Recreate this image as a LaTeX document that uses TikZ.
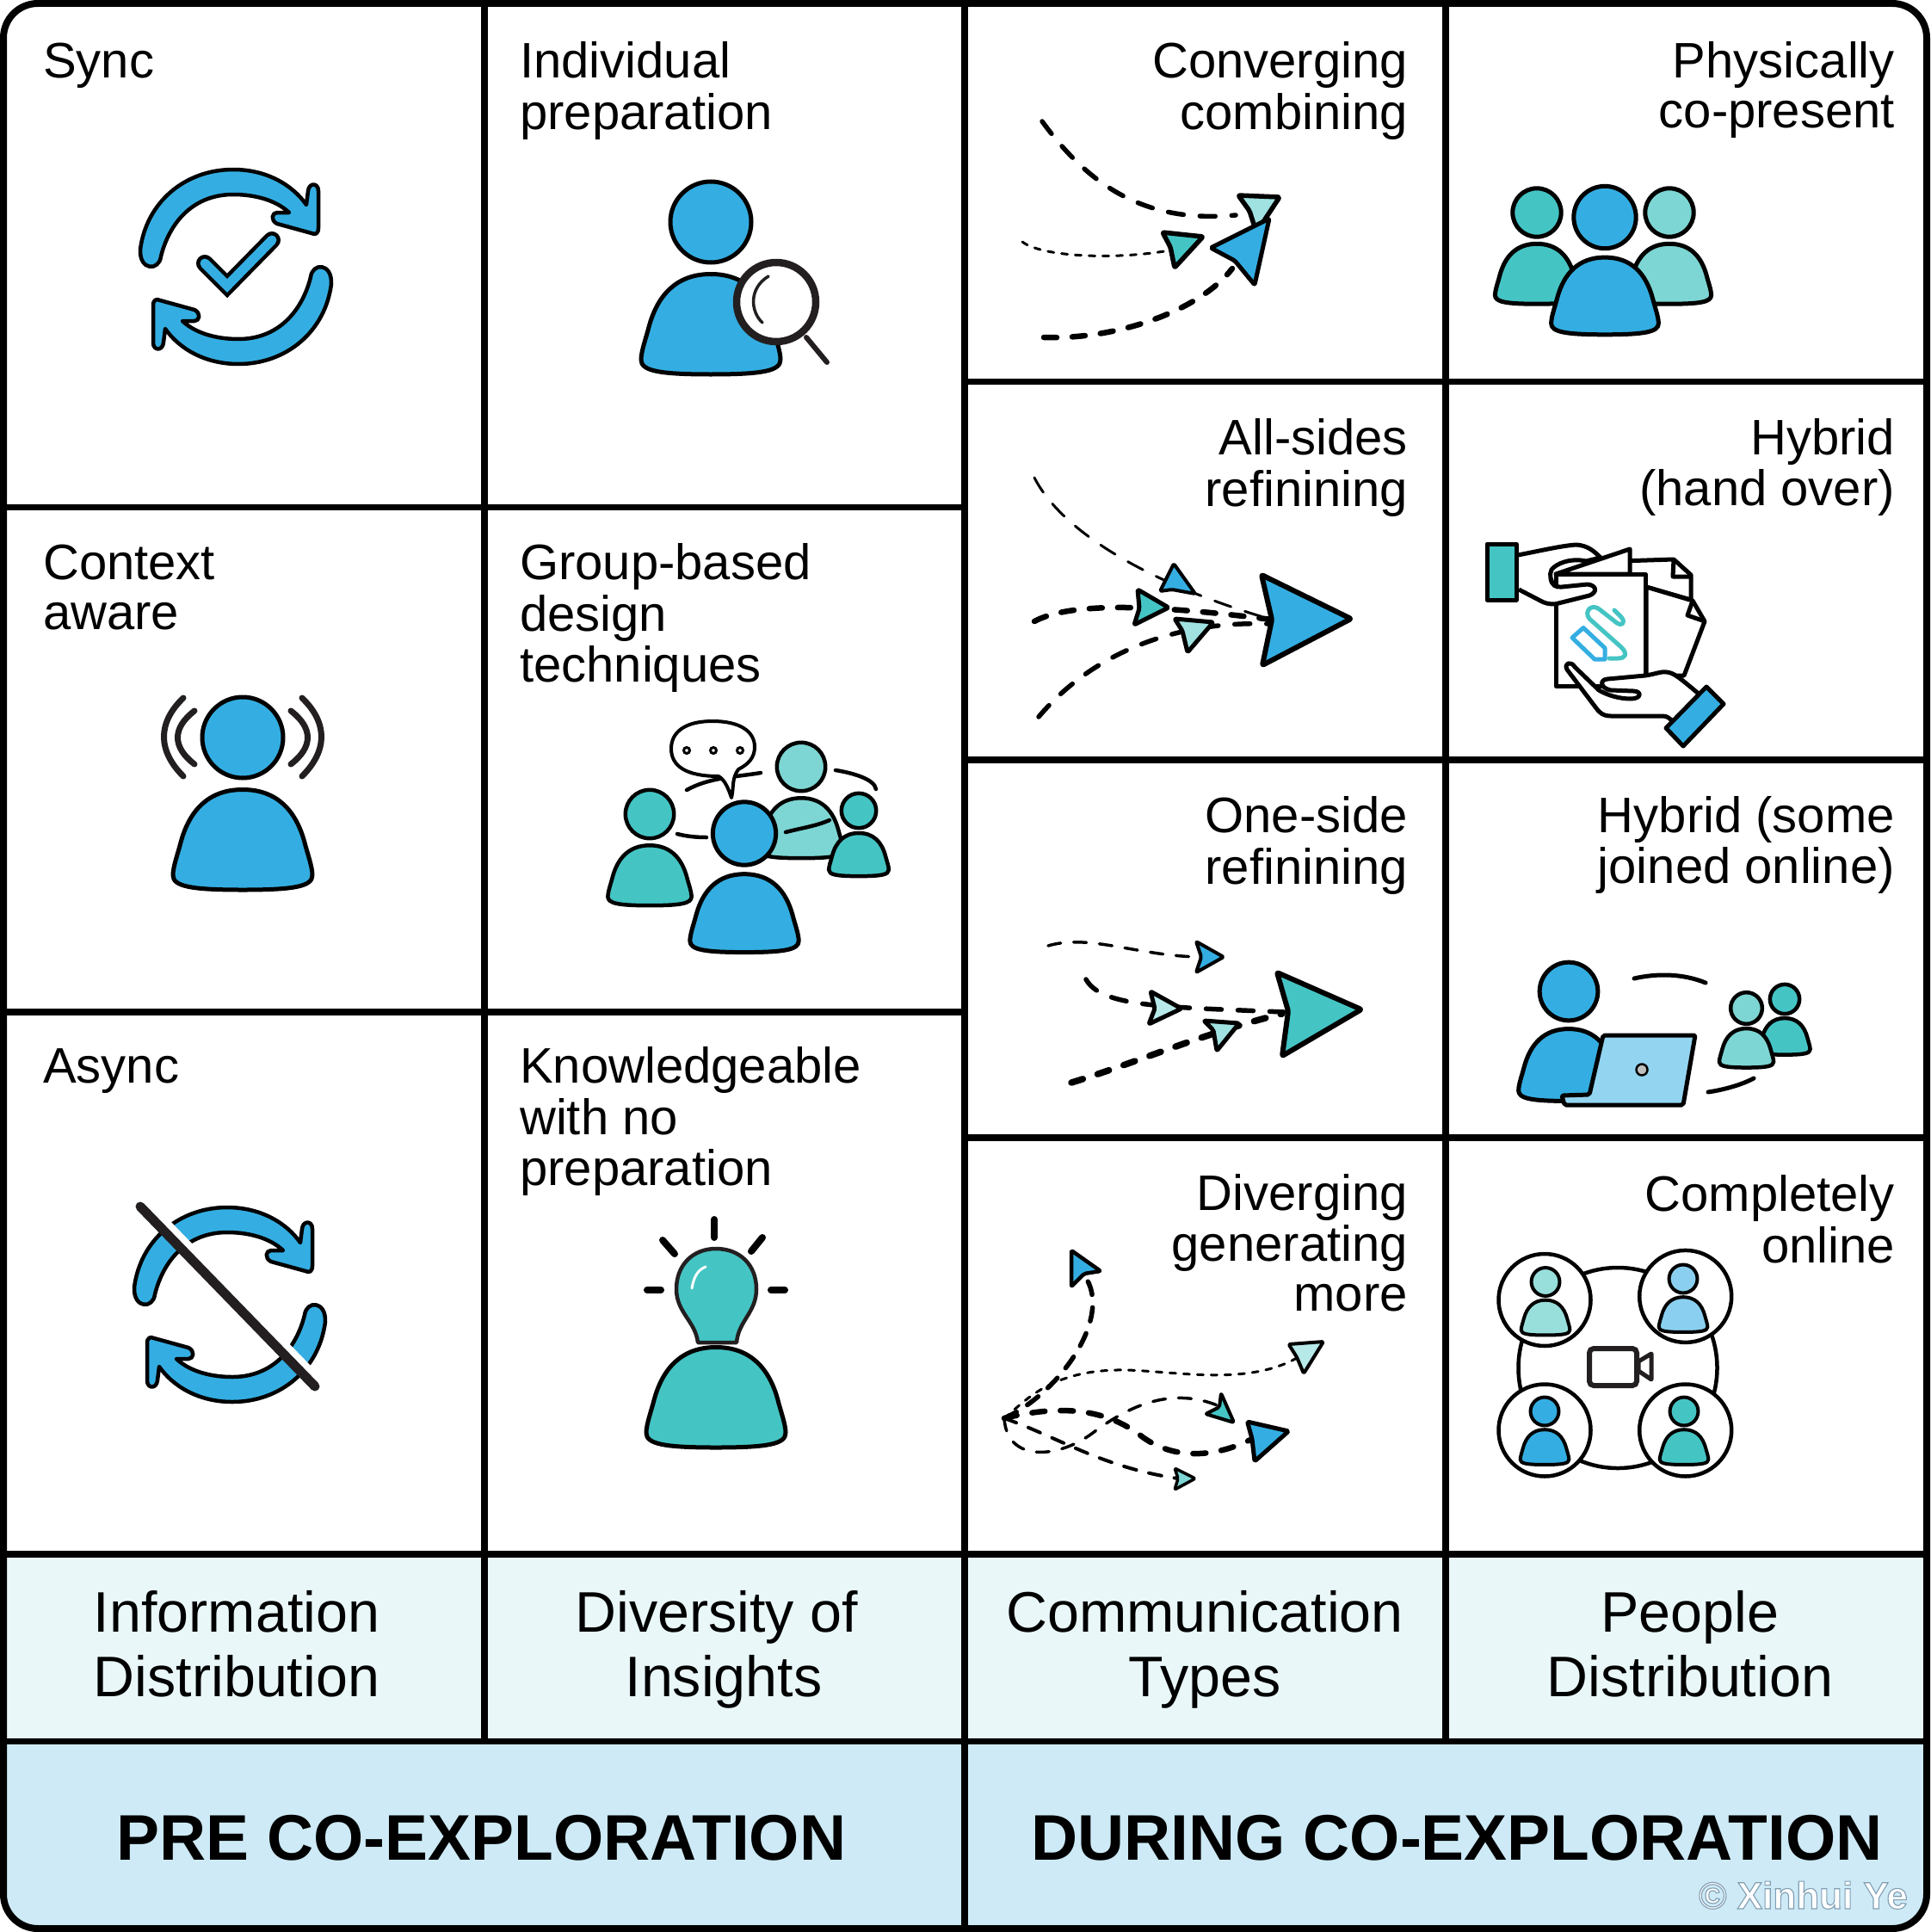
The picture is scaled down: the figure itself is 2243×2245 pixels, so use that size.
\documentclass[tikz,border=0pt]{standalone}
\usepackage{fontspec}
\setmainfont[Ligatures=NoCommon]{Liberation Sans}

\definecolor{cblue}{HTML}{34AEE2}
\definecolor{cteal}{HTML}{45C4C4}
\definecolor{cmint}{HTML}{7DD6D3}
\definecolor{caqua}{HTML}{A0E1E1}
\definecolor{cpale}{HTML}{B7E9E9}
\definecolor{csky}{HTML}{93D5F1}
\definecolor{csoftteal}{HTML}{98DFDC}
\definecolor{csoftblue}{HTML}{8ACFEF}
\definecolor{cheader}{HTML}{E9F7F9}
\definecolor{cfooter}{HTML}{CDEAF6}
\definecolor{cink}{HTML}{231F20}

\newcommand\cellfont{\fontsize{58}{58.3}\selectfont}
\newcommand\headfont{\fontsize{66.4}{75}\selectfont}
\newcommand\footfont{\fontsize{74.9}{80}\bfseries\selectfont}
\newcommand\stackL[1]{\begin{tabular}[t]{@{}l@{}}#1\end{tabular}}
\newcommand\stackR[1]{\begin{tabular}[t]{@{}r@{}}#1\end{tabular}}
\newcommand\stackC[1]{\begin{tabular}[t]{@{}c@{}}#1\end{tabular}}

\tikzset{
  gridline/.style={draw=black,line width=7.5pt},
  celltextL/.style={anchor=base west,inner sep=0pt,font=\cellfont},
  celltextR/.style={anchor=base east,inner sep=0pt,font=\cellfont},
  headtext/.style={anchor=base,inner sep=0pt,font=\headfont},
  foottext/.style={anchor=base,inner sep=0pt,font=\footfont},
  ink/.style={draw=black,line width=5pt,line join=round},
  inkline/.style={draw=cink,line width=#1,line cap=round},
  inkline/.default=5pt,
  plane/.style={draw=black,line width=#1,line join=round,rounded corners=2pt},
  plane/.default=5pt,
  flowfine/.style={draw=black,line width=3pt,line cap=round,dash pattern=on 7pt off 9pt},
  flowlight/.style={draw=black,line width=3.5pt,line cap=round,dash pattern=on 15pt off 15pt},
  flowmid/.style={draw=black,line width=5.5pt,line cap=round,dash pattern=on 18pt off 19pt},
  flowbold/.style={draw=black,line width=6.5pt,line cap=round,dash pattern=on 15pt off 18pt},
}

% bell-shaped torso; local origin is the centre of the head
\newcommand\torso[5]{%
  \draw[shift={(#1,#2)},scale=#3,fill=#4,draw=black,line width=#5pt,line join=round]
    (0,60.5) .. controls (40,60.5) and (62,85) .. (72,122)
    .. controls (75,134) and (81,150) .. (81,160)
    .. controls (81,173) and (60,177) .. (0,177)
    .. controls (-60,177) and (-81,173) .. (-81,160)
    .. controls (-81,150) and (-75,134) .. (-72,122)
    .. controls (-62,85) and (-40,60.5) .. (0,60.5) -- cycle;}
\newcommand\person[5]{%
  \torso{#1}{#2}{#3}{#4}{#5}%
  \draw[shift={(#1,#2)},scale=#3,fill=#4,draw=black,line width=#5pt]
    (0,0) ellipse [x radius=47,y radius=47];}

% curved arrow, half of the refresh symbol, centred on the symbol's middle
\newcommand\turnarrow[3]{%
  \draw[shift={(#1,#2)},rotate=#3,fill=cblue,draw=black,line width=4.5pt,line join=round]
    (62,-63) .. controls (46,-78) and (21,-84) .. (-3,-84)
    .. controls (-49,-84) and (-77,-52) .. (-87,-12)
    .. controls (-89,5) and (-112,5) .. (-111,-20)
    .. controls (-104,-75) and (-59,-113) .. (-3,-113)
    .. controls (36,-113) and (66,-95) .. (82,-72)
    -- (84,-88) .. controls (85,-98) and (96,-98) .. (96,-88)
    -- (96,-45) .. controls (96,-38) and (92,-37) .. (88,-39)
    -- (48,-50) .. controls (40,-54) and (42,-63) .. (48,-63) -- cycle;}

\begin{document}
\begin{tikzpicture}[x=1pt,y=-1pt]
\useasboundingbox (0,0) rectangle (2243,2245);
\fill[white] (0,0) rectangle (2243,2245);

% ---- table background and rules ----
\begin{scope}
  \clip[rounded corners=40pt] (4,4) rectangle (2239,2241);
  \fill[cheader] (4,1806) rectangle (2239,2023.5);
  \fill[cfooter] (4,2023.5) rectangle (2239,2241);
\end{scope}
\draw[gridline] (563,4) -- (563,2023.5);
\draw[gridline] (1121,4) -- (1121,2241);
\draw[gridline] (1680,4) -- (1680,2023.5);
\draw[gridline] (4,589.5) -- (1121,589.5);
\draw[gridline] (4,1176) -- (1121,1176);
\draw[gridline] (1121,443.5) -- (2239,443.5);
\draw[gridline] (1121,883) -- (2239,883);
\draw[gridline] (1121,1322) -- (2239,1322);
\draw[gridline] (4,1806) -- (2239,1806);
\draw[gridline] (4,2023.5) -- (2239,2023.5);
\draw[draw=black,line width=8pt,rounded corners=40pt] (4,4) rectangle (2239,2241);

% ---- Sync ----
\turnarrow{274}{310}{0}
\turnarrow{274}{310}{180}
\draw[draw=black,line width=20pt,line cap=round,line join=miter] (238,306) -- (264,332) -- (316,279);
\draw[draw=cblue,line width=11pt,line cap=round,line join=miter] (238,306) -- (264,332) -- (316,279);

% ---- Context aware ----
\person{282}{857}{1}{cblue}{5}
\draw[inkline=7pt] (213,811) .. controls (183,840) and (183,872) .. (213,902);
\draw[inkline=7pt] (226,826) .. controls (200,846) and (200,868) .. (226,888);
\draw[inkline=7pt] (351,811) .. controls (381,840) and (381,872) .. (351,902);
\draw[inkline=7pt] (338,826) .. controls (364,846) and (364,868) .. (338,888);

% ---- Async ----
\turnarrow{267}{1516}{0}
\turnarrow{267}{1516}{180}
\draw[white,line width=15pt] (168,1399) -- (371,1608);
\draw[inkline=11pt] (163,1402) -- (366,1611);

% ---- Individual preparation ----
\person{826}{258}{1}{cblue}{5}
\draw[inkline=6pt] (937,392) -- (961,421);
\draw[fill=white,draw=cink,line width=8.5pt] (902,351) circle [radius=46];
\draw[draw=cink,line width=3.5pt,line cap=round] (893,321) .. controls (870,335) and (872,362) .. (886,375);

% ---- Group-based design techniques ----
\person{931}{891}{0.6}{cmint}{4.5}
\person{998}{942}{0.43}{cteal}{4.5}
\draw[inkline=4.5pt,draw=black] (913,967) .. controls (932,962) and (948,960) .. (964,953);
\draw[inkline=4.5pt,draw=black] (971,895) .. controls (990,898) and (1016,905) .. (1018,917);
\person{755}{946}{0.6}{cteal}{4.5}
\draw[inkline=4.5pt,draw=black] (787,969) .. controls (798,972) and (810,973) .. (821,973);
\draw[inkline=4.5pt,draw=black] (798,918) .. controls (825,903) and (855,903) .. (884,898);
\draw[fill=white,draw=black,line width=4pt,line join=round]
  (835,902) .. controls (842,906) and (846,915) .. (850,927)
  .. controls (853,915) and (850,905) .. (858,894)
  .. controls (870,888) and (877,880) .. (877,868)
  .. controls (877,850) and (860,838) .. (828,838)
  .. controls (797,838) and (780,850) .. (780,870)
  .. controls (780,890) and (797,902) .. (835,902) -- cycle;
\draw[fill=white,draw=black,line width=3pt] (798,872) circle [radius=3.5];
\draw[fill=white,draw=black,line width=3pt] (829,872) circle [radius=3.5];
\draw[fill=white,draw=black,line width=3pt] (860,872) circle [radius=3.5];
\person{865}{968.5}{0.78}{cblue}{5}

% ---- Knowledgeable with no preparation ----
\torso{832}{1505}{1}{cteal}{5}
\draw[fill=cteal,draw=cink,line width=4.5pt,line join=round]
  (811,1560) .. controls (808,1535) and (786,1525) .. (786,1498)
  .. controls (786,1470) and (805,1451) .. (832,1451)
  .. controls (860,1451) and (879,1470) .. (879,1498)
  .. controls (879,1525) and (858,1535) .. (856,1560) -- cycle;
\draw[white,line width=3pt,line cap=round] (820,1472) .. controls (810,1476) and (806,1485) .. (804,1497);
\draw[inkline=8pt,draw=black] (830,1417) -- (830,1438);
\draw[inkline=8pt,draw=black] (770,1441) -- (784,1457);
\draw[inkline=8pt,draw=black] (886,1438) -- (873,1454);
\draw[inkline=8pt,draw=black] (752,1499) -- (768,1499);
\draw[inkline=8pt,draw=black] (896,1499) -- (912,1499);

% ---- Converging combining ----
\draw[flowmid] (1211,141) .. controls (1265,215) and (1330,260) .. (1436,250);
\draw[flowfine] (1188,281) .. controls (1210,298) and (1290,302) .. (1353,292);
\draw[flowbold] (1213,392) .. controls (1300,395) and (1395,360) .. (1432,312);
\draw[plane=5.5pt,fill=caqua] (1439,227) -- (1487,229) -- (1460,270) -- (1452,245) -- cycle;
\draw[plane=5.5pt,fill=cteal] (1351,270) -- (1398,275) -- (1365,311) -- (1360,287) -- cycle;
\draw[plane=5pt,fill=cblue] (1475,254) -- (1407,288) -- (1435,303) -- (1458,331) -- cycle;

% ---- All-sides refinining ----
\draw[flowfine,line width=3pt,dash pattern=on 20pt off 17pt] (1202,555) .. controls (1235,620) and (1340,680) .. (1478,720);
\draw[flowbold] (1202,722) .. controls (1240,702) and (1320,700) .. (1478,720);
\draw[flowmid] (1207,833) .. controls (1260,770) and (1350,720) .. (1478,725);
\draw[plane=4pt,fill=cblue] (1364,655) -- (1389,690) -- (1362,685) -- (1348,687) -- cycle;
\draw[plane=5pt,fill=cteal] (1322,685) -- (1358,706) -- (1318,726) -- (1324,707) -- cycle;
\draw[plane=5pt,fill=caqua] (1365,719) -- (1410,723) -- (1380,758) -- (1374,733) -- cycle;
\draw[plane=6pt,fill=cblue] (1570,719) -- (1466,668) -- (1478,720) -- (1467,773) -- cycle;

% ---- One-side refinining ----
\draw[flowlight] (1218,1099) .. controls (1265,1085) and (1320,1110) .. (1392,1112);
\draw[flowmid] (1262,1138) .. controls (1280,1170) and (1350,1170) .. (1492,1176);
\draw[flowbold,line width=7.5pt,dash pattern=on 14pt off 18pt] (1245,1258) .. controls (1320,1235) and (1400,1200) .. (1490,1178);
\draw[plane=4pt,fill=cblue] (1390,1094) -- (1422,1112) -- (1390,1130) -- (1396,1112) -- cycle;
\draw[plane=5pt,fill=cpale] (1337,1152) -- (1373,1172) -- (1335,1190) -- (1342,1172) -- cycle;
\draw[plane=5pt,fill=caqua] (1399,1186) -- (1440,1189) -- (1414,1221) -- (1410,1197) -- cycle;
\draw[plane=6pt,fill=cteal] (1582,1173) -- (1484,1130) -- (1497,1175) -- (1490,1227) -- cycle;

% ---- Diverging generating more ----
\coordinate (fan) at (1167,1648);
\draw[flowmid,dash pattern=on 16pt off 15pt] (fan) .. controls (1230,1620) and (1295,1530) .. (1260,1482);
\draw[flowfine] (fan) .. controls (1190,1630) and (1220,1590) .. (1310,1592)
  .. controls (1370,1594) and (1450,1610) .. (1507,1578);
\draw[flowlight] (fan) .. controls (1170,1700) and (1230,1695) .. (1270,1665)
  .. controls (1310,1635) and (1360,1610) .. (1417,1634);
\draw[flowbold] (fan) .. controls (1240,1630) and (1290,1640) .. (1328,1670)
  .. controls (1370,1700) and (1420,1690) .. (1455,1672);
\draw[flowlight,line width=4pt] (fan) .. controls (1230,1670) and (1280,1705) .. (1369,1718);
\draw[plane=4.5pt,fill=cblue] (1245,1453) -- (1279,1477) -- (1260,1480) -- (1245,1495) -- cycle;
\draw[plane=4pt,fill=cpale] (1497.5,1562) -- (1538,1559) -- (1515,1596) -- (1507,1577) -- cycle;
\draw[plane=4pt,fill=cteal] (1419,1619) -- (1434,1653) -- (1401,1643) -- (1417,1635) -- cycle;
\draw[plane=5pt,fill=cblue] (1449.5,1652) -- (1497.5,1663) -- (1458,1698) -- (1455,1672) -- cycle;
\draw[plane=3.5pt,fill=cmint] (1365,1706) -- (1389,1718) -- (1365,1731) -- (1369,1718) -- cycle;

% ---- Physically co-present ----
\person{1786}{247}{0.6}{cteal}{5}
\person{1940}{247}{0.6}{cmint}{5}
\person{1865}{252.5}{0.77}{cblue}{5}

% ---- Hybrid (hand over) ----
\draw[fill=white,ink] (1883,665) -- (1883,652) -- (1945,650) -- (1965,668) -- (1965,697) -- (1913,682) -- cycle;
\draw[ink] (1945,650) -- (1944,670) -- (1965,670);
\draw[fill=white,ink] (1913,682) -- (1967,698) -- (1981,722) -- (1957,785) -- (1913,785) -- cycle;
\draw[ink] (1967,698) -- (1961,715) -- (1981,722);
\draw[ink,fill=white] (1764,645) .. controls (1790,640) and (1815,634) .. (1832,633)
  .. controls (1845,634) and (1852,640) .. (1860,648) -- (1843,652)
  .. controls (1825,648) and (1808,655) .. (1803,662)
  .. controls (1800,668) and (1802,675) .. (1806,680);
\draw[ink,fill=white] (1808,667) -- (1894,638) -- (1894,667) -- cycle;
\draw[ink,fill=white] (1808,667) -- (1912,667) -- (1912,797) -- (1808,797) -- cycle;
\draw[fill=white,ink] (1802,672) .. controls (1803,680) and (1808,683) .. (1815,682)
  -- (1845,679) .. controls (1855,680) and (1857,688) .. (1847,692)
  -- (1807,702) .. controls (1800,702) and (1795,701) .. (1790,698)
  -- (1765,685);
\draw[ink,fill=cteal] (1728,632) rectangle (1762,697);
% paper-clip emblem on the front sheet
\draw[draw=cblue,line width=5pt,line join=round] (1840,729.5) -- (1865,753) -- (1865,766) -- (1853,766) -- (1827,741) -- cycle;
\draw[draw=cteal,line width=5pt,line cap=round,line join=round]
  (1876,709) -- (1884,717) .. controls (1890,724) and (1884,728) .. (1879,724)
  -- (1860,709) .. controls (1850,700) and (1840,710) .. (1847,719)
  -- (1884,752) .. controls (1892,760) and (1889,765) .. (1880,765) -- (1870,765);
% receiving hand
\draw[fill=white,ink] (1821,778) .. controls (1817,770) and (1826,768) .. (1830,775)
  -- (1858,802) .. controls (1868,808) and (1882,812) .. (1895,812)
  .. controls (1908,812) and (1908,803) .. (1898,803)
  -- (1872,802) .. controls (1860,800) and (1858,790) .. (1868,789)
  -- (1912,785) .. controls (1925,783) and (1930,780) .. (1937,781)
  .. controls (1945,782) and (1950,786) .. (1975,807)
  -- (1950,842) -- (1945,839)
  .. controls (1940,835) and (1938,832) .. (1932,832)
  -- (1872,832) .. controls (1862,832) and (1858,827) .. (1855,823)
  -- cycle;
\draw[ink,fill=cblue] (1983,798) -- (2003,818) -- (1956,867) -- (1936,846) -- cycle;

% ---- Hybrid (some joined online) ----
\person{1823}{1152}{0.72}{cblue}{5}
\person{2074}{1161}{0.365}{cteal}{4.5}
\person{2029.5}{1171.5}{0.39}{cmint}{4.5}
\draw[ink,fill=csky,rounded corners=2pt] (1863,1203) -- (1970,1203) -- (1956,1284) -- (1818,1284) -- (1815,1273) -- (1847,1272) -- cycle;
\draw[fill=lightgray,draw=black,line width=2.5pt] (1908,1243) circle [radius=6.5];
\draw[inkline=5pt,draw=black] (1899,1137) .. controls (1925,1131) and (1955,1131) .. (1982,1142);
\draw[inkline=5pt,draw=black] (1985,1269) .. controls (2005,1266) and (2025,1260) .. (2038,1253);

% ---- Completely online ----
\draw[ink,line width=4.5pt,fill=white] (1880,1589.5) ellipse [x radius=115.5,y radius=116.5];
\draw[ink,line width=4.5pt,fill=white] (1795,1510.5) circle [radius=53.5];
\draw[ink,line width=4.5pt,fill=white] (1958.7,1506.4) circle [radius=53.5];
\draw[ink,line width=4.5pt,fill=white] (1795,1662) circle [radius=53.5];
\draw[ink,line width=4.5pt,fill=white] (1958.7,1662) circle [radius=53.5];
\person{1796}{1489.5}{0.35}{csoftteal}{4}
\person{1956}{1486}{0.35}{csoftblue}{4}
\person{1795}{1640}{0.35}{cblue}{4}
\person{1957}{1640}{0.35}{cteal}{4}
\draw[fill=white,draw=cink,line width=6pt,rounded corners=5pt] (1847,1567) rectangle (1902,1610);
\draw[fill=white,draw=cink,line width=5pt,line join=round] (1904,1582) -- (1919,1573) -- (1919,1603) -- (1904,1593) -- cycle;

% ---- cell captions ----
\node[celltextL] (lblsync) at (50,90.7) {Sync};
\node[celltextL] (lblcontext) at (50,673.5) {\stackL{Context\\aware}};
\node[celltextL] (lblasync) at (50,1258.5) {Async};
\node[celltextL] (lblindiv) at (604,90.7) {\stackL{Individual\\preparation}};
\node[celltextL] (lblgroup) at (604,673.5) {\stackL{Group-based\\design\\techniques}};
\node[celltextL] (lblknow) at (604,1258.5) {\stackL{Knowledgeable\\with no\\preparation}};
\node[celltextR] (lblconv) at (1636,90.7) {\stackR{Converging\\combining}};
\node[celltextR] (lblall) at (1636,528.7) {\stackR{All-sides\\refinining}};
\node[celltextR] (lblone) at (1636,967.5) {\stackR{One-side\\refinining}};
\node[celltextR] (lbldiv) at (1636,1406) {\stackR{Diverging\\generating\\more}};
\node[celltextR] (lblphys) at (2202,90.7) {\stackR{Physically\\co-present}};
\node[celltextR] (lblhand) at (2202,528) {\stackR{Hybrid\\(hand over)}};
\node[celltextR] (lblsome) at (2202,967) {\stackR{Hybrid (some\\joined online)}};
\node[celltextR] (lblfull) at (2202,1407.5) {\stackR{Completely\\online}};

% ---- column headings ----
\node[headtext] (hinfo) at (275,1896) {\stackC{Information\\Distribution}};
\node[headtext] (hdiv) at (841,1896) {\stackC{Diversity of\kern17pt\\Insights}};
\node[headtext] (hcomm) at (1400,1896) {\stackC{Communication\\Types}};
\node[headtext] (hpeople) at (1964,1896) {\stackC{People\\Distribution}};

% ---- phase titles ----
\node[foottext] (fpre) at (559.5,2161.7) {PRE CO-EXPLORATION};
\node[foottext] (fduring) at (1693,2161.7) {DURING CO-EXPLORATION};

% ---- credit line, pale letters with a thin grey edge ----
\node[anchor=base east,inner sep=0pt,text=white,font=\fontsize{44}{46}\bfseries\selectfont] (credit) at (2217,2218)
  {\special{pdf:literal 0.5 0.62 0.7 RG 1.1 w 2 Tr}© Xinhui Ye\special{pdf:literal 0 Tr}};
\end{tikzpicture}
\end{document}
